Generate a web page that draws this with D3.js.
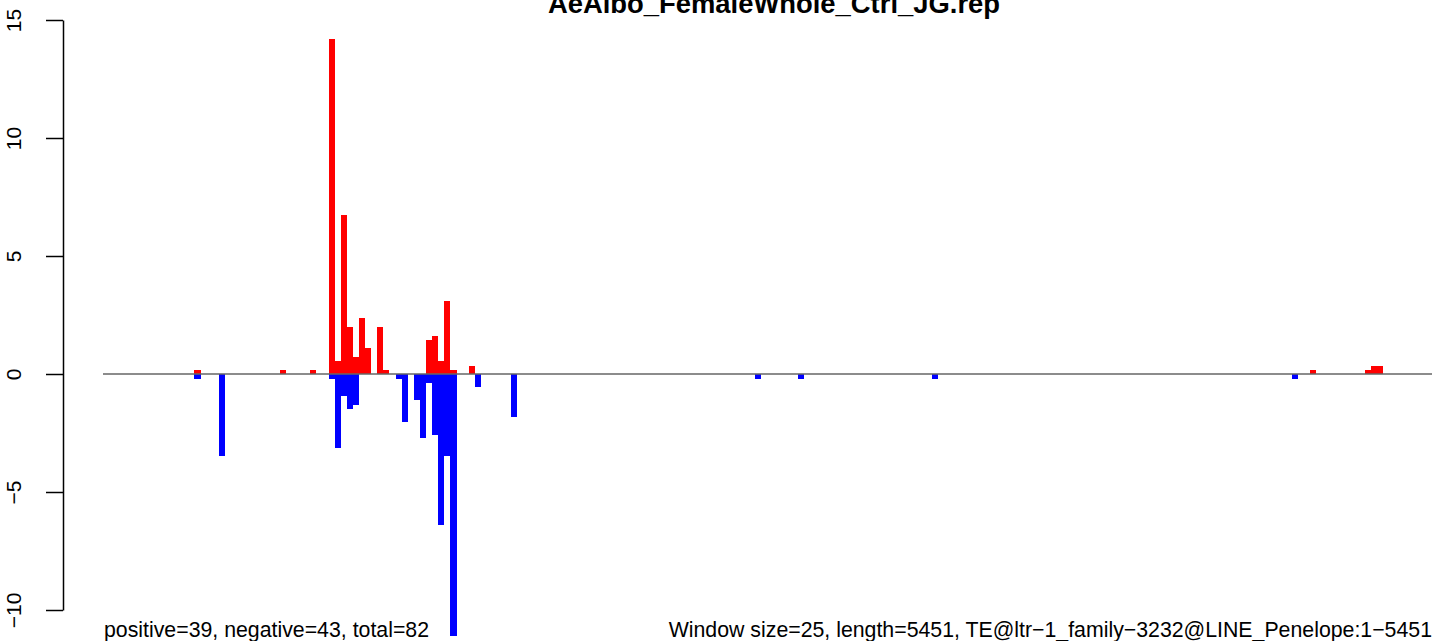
<!DOCTYPE html>
<html>
<head>
<meta charset="utf-8">
<script src="https://cdn.jsdelivr.net/npm/d3@7"></script>
<style>
  html, body { margin: 0; padding: 0; background: #fff; }
  svg { display: block; font-family: "Liberation Sans", Arial, Helvetica, sans-serif; }
</style>
</head>
<body>
<svg id="chart" width="1433" height="641"></svg>
<script>
// ---- data ----
const title = "AeAlbo_FemaleWhole_Ctrl_JG.rep";
const windowSize = 25;
const seqLength = 5451;
const posWindows = [15, 29, 34, 37, 38, 39, 40, 41, 42, 43, 45, 46, 53, 54, 55, 56, 57, 60, 198, 207, 208, 209];
const posValues  = [0.17, 0.17, 0.17, 14.19, 0.55, 6.74, 1.99, 0.72, 2.37, 1.10, 1.99, 0.17, 1.44, 1.61, 0.55, 3.09, 0.17, 0.34, 0.17, 0.17, 0.34, 0.34];
const negWindows = [15, 19, 37, 38, 39, 40, 41, 48, 49, 51, 52, 53, 54, 55, 56, 57, 61, 67, 107, 114, 136, 195];
const negValues  = [-0.2, -3.46, -0.21, -3.12, -0.93, -1.47, -1.31, -0.2, -2.02, -1.09, -2.73, -0.37, -2.57, -6.38, -3.46, -11.1, -0.54, -1.81, -0.2, -0.2, -0.2, -0.2];
const yTicks = [-10, -5, 0, 5, 10, 15];
const leftNote = "positive=39, negative=43, total=82";
const rightNote = "Window size=25, length=5451, TE@ltr\u22121_family\u22123232@LINE_Penelope:1\u22125451";

// ---- layout ----
const svg = d3.select("#chart");
const x = d3.scaleLinear().domain([0, seqLength]).range([103, 1432]);
const y = d3.scaleLinear().domain([-10, 15]).range([610, 20]);
const axisX = 63;
const clipBottom = 637;

svg.append("defs").append("clipPath").attr("id", "plotclip")
  .append("rect").attr("x", 0).attr("y", 0).attr("width", 1433).attr("height", clipBottom);

const bars = svg.append("g").attr("clip-path", "url(#plotclip)");

const posData = posWindows.map((w, i) => ({ w, v: posValues[i] }));
const negData = negWindows.map((w, i) => ({ w, v: negValues[i] }));

bars.selectAll("rect.pos").data(posData).join("rect")
  .attr("class", "pos")
  .attr("x", d => x(d.w * windowSize))
  .attr("width", d => x((d.w + 1) * windowSize) - x(d.w * windowSize))
  .attr("y", d => y(d.v))
  .attr("height", d => y(0) - y(d.v))
  .attr("fill", "#FF0000")
  .attr("shape-rendering", "crispEdges");

bars.selectAll("rect.neg").data(negData).join("rect")
  .attr("class", "neg")
  .attr("x", d => x(d.w * windowSize))
  .attr("width", d => x((d.w + 1) * windowSize) - x(d.w * windowSize))
  .attr("y", y(0))
  .attr("height", d => y(d.v) - y(0))
  .attr("fill", "#0000FF")
  .attr("shape-rendering", "crispEdges");

// zero line
svg.append("line")
  .attr("x1", x(0)).attr("x2", x(seqLength))
  .attr("y1", y(0)).attr("y2", y(0))
  .attr("stroke", "#666666").attr("stroke-width", 1.5);

// y axis
const yAxis = d3.axisLeft(y).tickValues(yTicks).tickSize(17).tickSizeOuter(0)
  .tickFormat(d3.format("d"));
const gy = svg.append("g").attr("transform", `translate(${axisX},0)`).call(yAxis);
gy.select(".domain").attr("stroke", "#000").attr("stroke-width", 1.5);
gy.selectAll(".tick line").attr("stroke", "#000").attr("stroke-width", 1.5);
gy.selectAll(".tick text")
  .attr("transform", "rotate(-90)")
  .attr("x", 0).attr("y", -42).attr("dy", 0)
  .attr("text-anchor", "middle")
  .attr("fill", "#000")
  .style("font-size", "21px")
  .style("font-family", "'Liberation Sans', Arial, sans-serif");

// title
svg.append("text")
  .attr("x", 774).attr("y", 13)
  .attr("text-anchor", "middle")
  .attr("font-weight", "bold")
  .attr("font-size", 27.4)
  .attr("fill", "#000")
  .text(title);

// bottom notes
svg.append("text")
  .attr("x", x(0) + 1).attr("y", 637)
  .attr("text-anchor", "start")
  .attr("font-size", 21.3)
  .attr("fill", "#000")
  .text(leftNote);

svg.append("text")
  .attr("x", x(seqLength)).attr("y", 637)
  .attr("text-anchor", "end")
  .attr("font-size", 21.3)
  .attr("fill", "#000")
  .text(rightNote);
</script>
</body>
</html>
